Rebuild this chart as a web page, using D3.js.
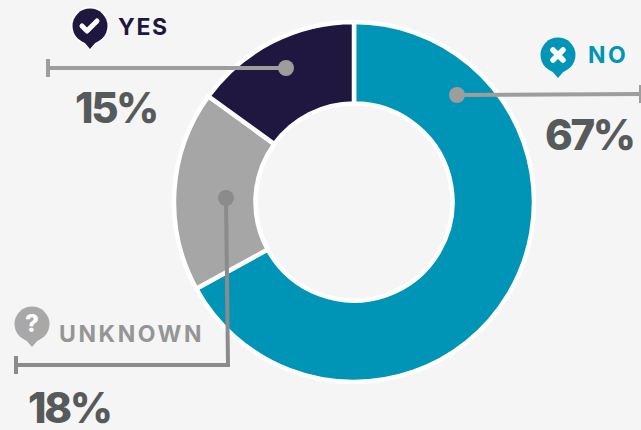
<!DOCTYPE html>
<html>
<head>
<meta charset="utf-8">
<script src="https://cdn.jsdelivr.net/npm/d3@7/dist/d3.min.js"></script>
<style>
html,body{margin:0;padding:0;background:#f5f5f5;overflow:hidden}
svg{display:block}
text{font-family:Inter,Lato,sans-serif}
</style>
</head>
<body>
<svg id="chart" width="641" height="430"></svg>
<script>
// Survey answers, clockwise from twelve o'clock
const categories = ["NO", "UNKNOWN", "YES"];
const values = [67, 18, 15];
const sliceColors = ["#0095b6", "#a6a6a6", "#1f1740"];
const labelColors = ["#0095b6", "#959595", "#1f1740"];
const glyphs = ["x", "?", "check"];

const svg = d3.select("#chart");
const cx = 354, cy = 202, outer = 180, inner = 98.5;

const pie = d3.pie().sort(null)(values);
const arc = d3.arc().innerRadius(inner).outerRadius(outer);

const ring = svg.append("g").attr("transform", `translate(${cx},${cy})`);
ring.selectAll("path").data(pie).join("path")
  .attr("d", arc)
  .attr("fill", (d, i) => sliceColors[i])
  .attr("stroke", "#fff")
  .attr("stroke-width", 4.5);

// Leader lines: anchor dot inside the slice, out to a capped end
const leaderColor = ["#9d9d9d", "#8b8b8b", "#9d9d9d"];
const leaders = [
  {pts: [[457, 95], [641, 94]], cap: [641, 94]},
  {pts: [[226, 198], [228, 365], [16, 365]], cap: [16, 365]},
  {pts: [[286, 68], [48, 68]], cap: [48, 68]}
];
const line = d3.line();
leaders.forEach((l, i) => {
  const g = svg.append("g");
  g.append("path").attr("d", line(l.pts)).attr("fill", "none")
    .attr("stroke", leaderColor[i]).attr("stroke-width", 4);
  g.append("line")
    .attr("x1", l.cap[0]).attr("x2", l.cap[0])
    .attr("y1", l.cap[1] - 9).attr("y2", l.cap[1] + 9)
    .attr("stroke", leaderColor[i]).attr("stroke-width", 4);
  g.append("circle").attr("cx", l.pts[0][0]).attr("cy", l.pts[0][1]).attr("r", 8)
    .attr("fill", leaderColor[i]);
});

// Speech-bubble badges with the answer glyph
const badges = [{x: 558, y: 55, halo: false}, {x: 32, y: 324, halo: false}, {x: 90, y: 26, halo: true}];
const bubble = d3.path();
bubble.moveTo(-6, 16);
bubble.lineTo(0, 23);
bubble.lineTo(6, 16);
bubble.closePath();
badges.forEach((b, i) => {
  const g = svg.append("g").attr("transform", `translate(${b.x},${b.y})`);
  if (b.halo) {
    g.append("circle").attr("r", 19).attr("fill", "#fff");
    g.append("path").attr("d", "M-8,15L0,25L8,15Z").attr("fill", "#fff");
  }
  g.append("circle").attr("r", 17.5).attr("fill", i === 1 ? "#a8a8a8" : sliceColors[i]);
  g.append("path").attr("d", bubble.toString()).attr("fill", i === 1 ? "#a8a8a8" : sliceColors[i]);
  if (glyphs[i] === "x") {
    g.append("path").attr("d", "M-5,-5L5,5M5,-5L-5,5").attr("stroke", "#fff")
      .attr("stroke-width", 5.5).attr("stroke-linecap", "round");
  } else if (glyphs[i] === "check") {
    g.append("path").attr("d", "M-8,0L-3,5L7,-5").attr("fill", "none").attr("stroke", "#fff")
      .attr("stroke-width", 5).attr("stroke-linecap", "round").attr("stroke-linejoin", "round");
  } else {
    g.append("text").attr("y", 8).attr("text-anchor", "middle").attr("fill", "#fff")
      .attr("font-size", 24).attr("font-weight", 800).text("?");
  }
});

// Category names and their shares
const names = [{x: 588, y: 63, ls: 2.4}, {x: 59, y: 342, ls: 2.6}, {x: 118, y: 35, ls: 1.6}];
const shares = [{x: 545, y: 150}, {x: 28, y: 423}, {x: 75, y: 123}];
categories.forEach((c, i) => {
  svg.append("text").attr("x", shares[i].x).attr("y", shares[i].y)
    .attr("font-size", 42).attr("font-weight", 800).attr("letter-spacing", -2.4)
    .attr("fill", "#575a5b").text(values[i] + "%");
  svg.append("text").attr("x", names[i].x).attr("y", names[i].y)
    .attr("font-size", 23).attr("font-weight", 700)
    .attr("letter-spacing", names[i].ls).attr("fill", labelColors[i]).text(c);
});
</script>
</body>
</html>
